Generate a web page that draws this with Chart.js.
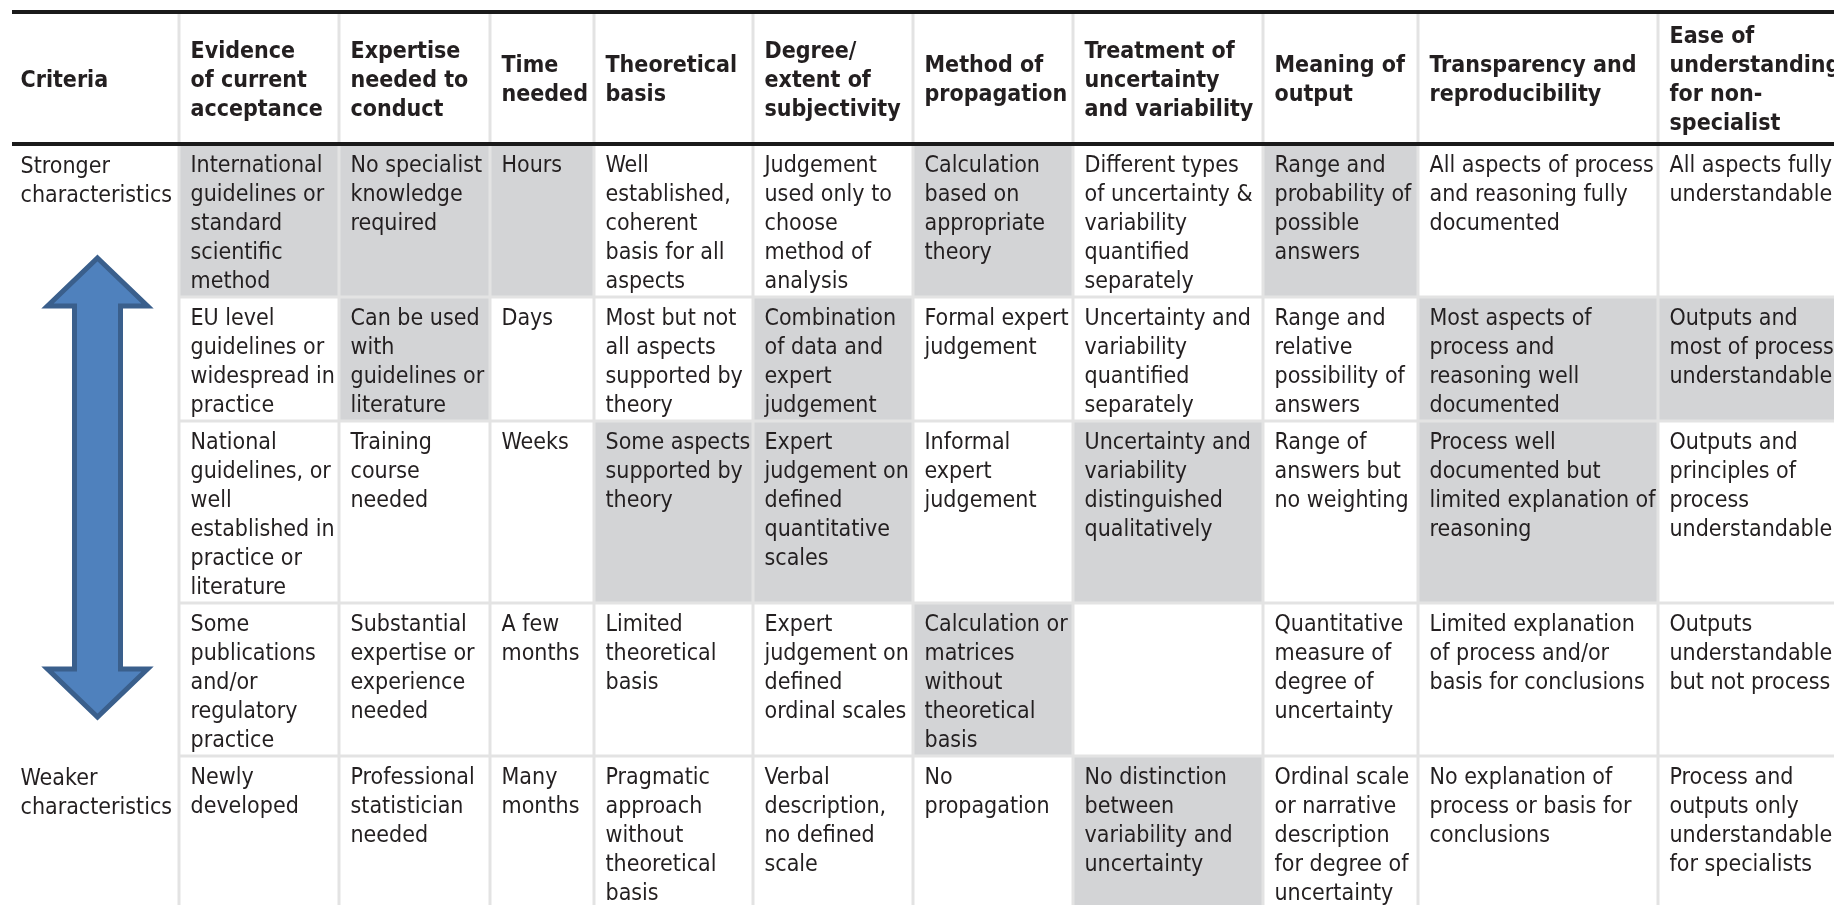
<!DOCTYPE html>
<html>
<head>
<meta charset="utf-8">
<script src="https://cdn.jsdelivr.net/npm/chart.js@4.4.1/dist/chart.umd.min.js"></script>
<style>
  html, body { margin: 0; padding: 0; background: #fff; overflow: hidden; }
  canvas { display: block; }
</style>
</head>
<body>
<canvas id="criteriaTable" width="1834" height="905"></canvas>
<script>
// column headings
const headers = [
    'Criteria',
    'Evidence\nof current\nacceptance',
    'Expertise\nneeded to\nconduct',
    'Time\nneeded',
    'Theoretical\nbasis',
    'Degree/\nextent of\nsubjectivity',
    'Method of\npropagation',
    'Treatment of\nuncertainty\nand variability',
    'Meaning of\noutput',
    'Transparency and\nreproducibility',
    'Ease of\nunderstanding\nfor non-\nspecialist'
];

const sideLabels = ['Stronger\ncharacteristics', 'Weaker\ncharacteristics'];

// cell texts, strongest row first
const row1 = [
    'International\nguidelines or\nstandard\nscientific\nmethod',
    'No specialist\nknowledge\nrequired',
    'Hours',
    'Well\nestablished,\ncoherent\nbasis for all\naspects',
    'Judgement\nused only to\nchoose\nmethod of\nanalysis',
    'Calculation\nbased on\nappropriate\ntheory',
    'Different types\nof uncertainty &\nvariability\nquantified\nseparately',
    'Range and\nprobability of\npossible\nanswers',
    'All aspects of process\nand reasoning fully\ndocumented',
    'All aspects fully\nunderstandable'
];
const row2 = [
    'EU level\nguidelines or\nwidespread in\npractice',
    'Can be used\nwith\nguidelines or\nliterature',
    'Days',
    'Most but not\nall aspects\nsupported by\ntheory',
    'Combination\nof data and\nexpert\njudgement',
    'Formal expert\njudgement',
    'Uncertainty and\nvariability\nquantified\nseparately',
    'Range and\nrelative\npossibility of\nanswers',
    'Most aspects of\nprocess and\nreasoning well\ndocumented',
    'Outputs and\nmost of process\nunderstandable'
];
const row3 = [
    'National\nguidelines, or\nwell\nestablished in\npractice or\nliterature',
    'Training\ncourse\nneeded',
    'Weeks',
    'Some aspects\nsupported by\ntheory',
    'Expert\njudgement on\ndefined\nquantitative\nscales',
    'Informal\nexpert\njudgement',
    'Uncertainty and\nvariability\ndistinguished\nqualitatively',
    'Range of\nanswers but\nno weighting',
    'Process well\ndocumented but\nlimited explanation of\nreasoning',
    'Outputs and\nprinciples of\nprocess\nunderstandable'
];
const row4 = [
    'Some\npublications\nand/or\nregulatory\npractice',
    'Substantial\nexpertise or\nexperience\nneeded',
    'A few\nmonths',
    'Limited\ntheoretical\nbasis',
    'Expert\njudgement on\ndefined\nordinal scales',
    'Calculation or\nmatrices\nwithout\ntheoretical\nbasis',
    '',
    'Quantitative\nmeasure of\ndegree of\nuncertainty',
    'Limited explanation\nof process and/or\nbasis for conclusions',
    'Outputs\nunderstandable\nbut not process'
];
const row5 = [
    'Newly\ndeveloped',
    'Professional\nstatistician\nneeded',
    'Many\nmonths',
    'Pragmatic\napproach\nwithout\ntheoretical\nbasis',
    'Verbal\ndescription,\nno defined\nscale',
    'No\npropagation',
    'No distinction\nbetween\nvariability and\nuncertainty',
    'Ordinal scale\nor narrative\ndescription\nfor degree of\nuncertainty',
    'No explanation of\nprocess or basis for\nconclusions',
    'Process and\noutputs only\nunderstandable\nfor specialists'
];

// 1 = grey highlighted cell
const shade1 = [1, 1, 1, 0, 0, 1, 0, 1, 0, 0];
const shade2 = [0, 1, 0, 0, 1, 0, 0, 0, 1, 1];
const shade3 = [0, 0, 0, 1, 1, 0, 1, 0, 1, 0];
const shade4 = [0, 0, 0, 0, 0, 1, 0, 0, 0, 0];
const shade5 = [0, 0, 0, 0, 0, 0, 1, 0, 0, 0];

const rows = [row1, row2, row3, row4, row5];
const shades = [shade1, shade2, shade3, shade4, shade5];

// layout (table units = px of the page)
const colWidths = [167, 160, 151, 104, 159, 160, 160, 190, 155, 240, 230];
const tableLeft = 12;
const topRuleY = 12;
const headerBottomY = 144;
const lineH = 29;
const rowPad = 8;

function hasFont(name) {
    const c = document.createElement('canvas').getContext('2d');
    const probe = 'International guidelines mmm';
    for (const fb of ['monospace', 'serif']) {
        c.font = '40px ' + fb;
        const a = c.measureText(probe).width;
        c.font = '40px "' + name + '", ' + fb;
        if (c.measureText(probe).width !== a) return true;
    }
    return false;
}
const family = hasFont('DejaVu Sans Condensed') ? '"DejaVu Sans Condensed"' : '"Liberation Sans"';
const bodyFont = '23px ' + family;
const headFont = 'bold 23px ' + family;

const colEdges = [tableLeft];
colWidths.forEach(w => colEdges.push(colEdges[colEdges.length - 1] + w));
const rowEdges = [headerBottomY];
rows.forEach(r => {
    const n = Math.max(...r.map(t => t ? t.split('\n').length : 1));
    rowEdges.push(rowEdges[rowEdges.length - 1] + n * lineH + rowPad);
});

const tablePlugin = {
    id: 'tableCells',
    beforeDatasetsDraw(chart) {
        const ctx = chart.ctx;
        const x = chart.scales.x, y = chart.scales.y;
        const px = v => x.getPixelForValue(v);
        const py = v => y.getPixelForValue(v);
        const right = px(colEdges[colEdges.length - 1]);
        const bottom = py(rowEdges[rowEdges.length - 1]);

        ctx.save();
        // grey cells
        ctx.fillStyle = '#d3d4d6';
        shades.forEach((s, r) => s.forEach((v, c) => {
            if (!v) return;
            const x0 = px(colEdges[c + 1]), x1 = px(colEdges[c + 2]);
            const y0 = py(rowEdges[r]), y1 = py(rowEdges[r + 1]);
            ctx.fillRect(x0, y0, x1 - x0, y1 - y0);
        }));

        // light grid
        ctx.strokeStyle = '#e3e3e3';
        ctx.lineWidth = 3;
        ctx.beginPath();
        for (let c = 1; c < colEdges.length - 1; c++) {
            ctx.moveTo(px(colEdges[c]), py(topRuleY));
            ctx.lineTo(px(colEdges[c]), bottom);
        }
        for (let r = 1; r < rowEdges.length - 1; r++) {
            ctx.moveTo(px(colEdges[1]), py(rowEdges[r]));
            ctx.lineTo(right, py(rowEdges[r]));
        }
        ctx.stroke();

        // black rules
        ctx.strokeStyle = '#1a1a1a';
        ctx.lineWidth = 4;
        ctx.beginPath();
        ctx.moveTo(px(tableLeft), py(topRuleY));
        ctx.lineTo(right, py(topRuleY));
        ctx.moveTo(px(tableLeft), py(headerBottomY));
        ctx.lineTo(right, py(headerBottomY));
        ctx.stroke();

        // text
        ctx.fillStyle = '#231f20';
        ctx.textBaseline = 'alphabetic';
        ctx.textAlign = 'left';
        const mid = (topRuleY + headerBottomY) / 2;
        ctx.font = headFont;
        headers.forEach((h, c) => {
            const lines = h.split('\n');
            const pad = c === 0 ? 8.5 : 11.5;
            const b0 = mid + 8.5 - (lines.length - 1) * lineH / 2;
            lines.forEach((l, i) => ctx.fillText(l, px(colEdges[c] + pad), py(b0 + i * lineH)));
        });
        ctx.font = bodyFont;
        rows.forEach((row, r) => row.forEach((t, c) => {
            if (!t) return;
            t.split('\n').forEach((l, i) =>
                ctx.fillText(l, px(colEdges[c + 1] + 11.5), py(rowEdges[r] + 27.5 + i * lineH)));
        }));
        [0, rows.length - 1].forEach((r, k) => {
            sideLabels[k].split('\n').forEach((l, i) =>
                ctx.fillText(l, px(tableLeft + 8.5), py(rowEdges[r] + 28.5 + i * lineH)));
        });

        // double headed arrow in the criteria column
        const cx = (colEdges[0] + colEdges[1]) / 2 + 2;
        const top = rowEdges[1] - 39, bot = rowEdges[4] - 39;
        const headW = 50, shaftW = 23, headH = 48;
        ctx.beginPath();
        ctx.moveTo(px(cx), py(top));
        ctx.lineTo(px(cx + headW), py(top + headH));
        ctx.lineTo(px(cx + shaftW), py(top + headH));
        ctx.lineTo(px(cx + shaftW), py(bot - headH));
        ctx.lineTo(px(cx + headW), py(bot - headH));
        ctx.lineTo(px(cx), py(bot));
        ctx.lineTo(px(cx - headW), py(bot - headH));
        ctx.lineTo(px(cx - shaftW), py(bot - headH));
        ctx.lineTo(px(cx - shaftW), py(top + headH));
        ctx.lineTo(px(cx - headW), py(top + headH));
        ctx.closePath();
        ctx.fillStyle = '#4f81bd';
        ctx.fill();
        ctx.strokeStyle = '#3a5f8c';
        ctx.lineWidth = 5;
        ctx.lineJoin = 'miter';
        ctx.stroke();
        ctx.restore();
    }
};

const ctxTable = document.getElementById('criteriaTable').getContext('2d');
const criteriaTable = new Chart(ctxTable, {
    type: 'scatter',
    data: { datasets: [{ data: [], pointRadius: 0 }] },
    options: {
        responsive: false,
        animation: false,
        layout: { padding: 0 },
        plugins: { legend: { display: false }, tooltip: { enabled: false } },
        scales: {
            x: { type: 'linear', min: 0, max: 1834, display: false },
            y: { type: 'linear', min: 0, max: 905, reverse: true, display: false }
        }
    },
    plugins: [tablePlugin]
});
</script>
</body>
</html>
